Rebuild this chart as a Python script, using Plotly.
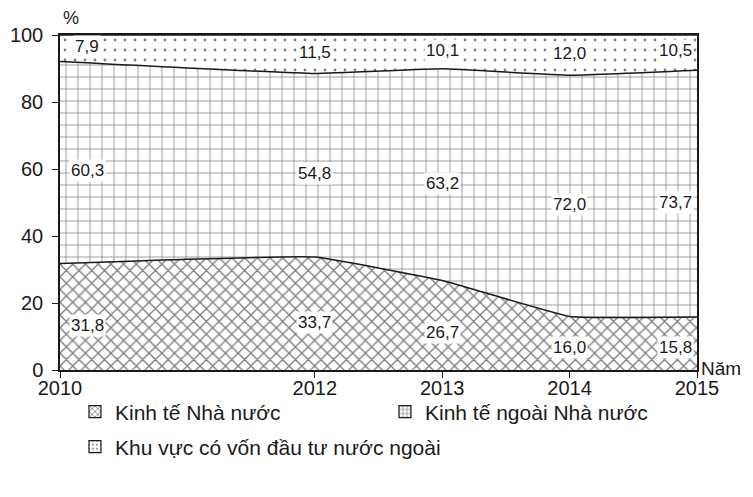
import plotly.graph_objects as go

years = [2010, 2012, 2013, 2014, 2015]
nha_nuoc = [31.8, 33.7, 26.7, 16.0, 15.8]
ngoai_nha_nuoc = [60.3, 54.8, 63.2, 72.0, 73.7]
fdi = [7.9, 11.5, 10.1, 12.0, 10.5]
y_ticks = [0, 20, 40, 60, 80, 100]
names = ["Kinh tế Nhà nước", "Kinh tế ngoài Nhà nước", "Khu vực có vốn đầu tư nước ngoài"]

FONT = "Liberation Sans, Arial, sans-serif"
INK = "#1a1a1a"

fig = go.Figure()
series = [nha_nuoc, ngoai_nha_nuoc, fdi]
patterns = [
    dict(shape="x", size=9, solidity=0.28, fgcolor="#000", bgcolor="white"),
    dict(shape="+", size=12, solidity=0.12, fgcolor="#000", bgcolor="white"),
    dict(shape=".", size=10, solidity=0.06, fgcolor="#000", bgcolor="white"),
]
for name, vals, pat in zip(names, series, patterns):
    fig.add_trace(go.Scatter(
        x=years, y=vals, name=name, mode="lines", stackgroup="one",
        line=dict(color=INK, width=1.5, shape="spline", smoothing=0.3),
        fillcolor="white", fillpattern=pat, hoverinfo="skip", showlegend=False,
    ))
# legend swatches (empty bars carrying the same patterns)
legend_ids = ["legend", "legend", "legend2"]
swatch_solidity = [0.35, 0.3, 0.2]
for name, pat, lg, sol in zip(names, patterns, legend_ids, swatch_solidity):
    fig.add_trace(go.Bar(
        x=[None], y=[None], name=name, legend=lg,
        marker=dict(color="white", line=dict(color=INK, width=1.2),
                    pattern=dict(shape=pat["shape"], size=5,
                                 solidity=sol, fgcolor="#000", bgcolor="white")),
        hoverinfo="skip", showlegend=True,
    ))

def fmt(v):
    return f"{v:.1f}".replace(".", ",")

x_shift = {2010: 27, 2015: -22}
for i, yr in enumerate(years):
    b0 = nha_nuoc[i]
    b1 = b0 + ngoai_nha_nuoc[i]
    items = [
        (nha_nuoc[i], 0.42 * nha_nuoc[i]),
        (ngoai_nha_nuoc[i], (b0 + b1) / 2 - 2.5),
        (fdi[i], (b1 + 100) / 2 + 0.5),
    ]
    for v, yy in items:
        fig.add_annotation(
            x=yr, y=yy, text=fmt(v), showarrow=False,
            xshift=x_shift.get(yr, 0),
            font=dict(family=FONT, size=17, color=INK),
            bgcolor="white", borderpad=1,
        )

fig.add_annotation(xref="paper", yref="paper", x=0, y=1, yshift=17, xshift=1,
                   text="%", showarrow=False, xanchor="left", yanchor="middle",
                   font=dict(family=FONT, size=18, color=INK))
fig.add_annotation(xref="paper", yref="paper", x=1, y=0, xshift=2, yshift=2,
                   text="Năm", showarrow=False, xanchor="left", yanchor="middle",
                   font=dict(family=FONT, size=19, color=INK))

legend_common = dict(
    orientation="h", xanchor="left", yanchor="middle",
    entrywidthmode="pixels",
    font=dict(family=FONT, size=21, color=INK),
    traceorder="normal", bgcolor="rgba(0,0,0,0)",
)

fig.update_layout(
    width=745, height=489,
    margin=dict(l=52, r=56, t=27, b=127, autoexpand=False),
    paper_bgcolor="white", plot_bgcolor="white",
    font=dict(family=FONT, size=19, color=INK),
    showlegend=True,
    legend=dict(x=0.0235, y=-0.125, entrywidth=265, **legend_common),
    legend2=dict(x=0.0235, y=-0.23, entrywidth=420, **legend_common),
    xaxis=dict(
        range=[2010, 2015], tickvals=years, ticktext=[str(y) for y in years],
        showgrid=False, zeroline=False, showline=True, linecolor=INK,
        linewidth=1.5, mirror=True, ticks="outside", ticklen=6,
        tickcolor=INK, ticklabelstandoff=-7,
        tickfont=dict(family=FONT, size=20, color=INK),
        automargin=False,
    ),
    yaxis=dict(
        range=[0, 100], tickvals=y_ticks, showgrid=False, zeroline=False,
        showline=True, linecolor=INK, linewidth=1.5, mirror=True,
        ticks="outside", ticklen=6, tickcolor=INK, ticklabelstandoff=5,
        tickfont=dict(family=FONT, size=20, color=INK),
        automargin=False,
    ),
)

fig.write_html("out.html")
